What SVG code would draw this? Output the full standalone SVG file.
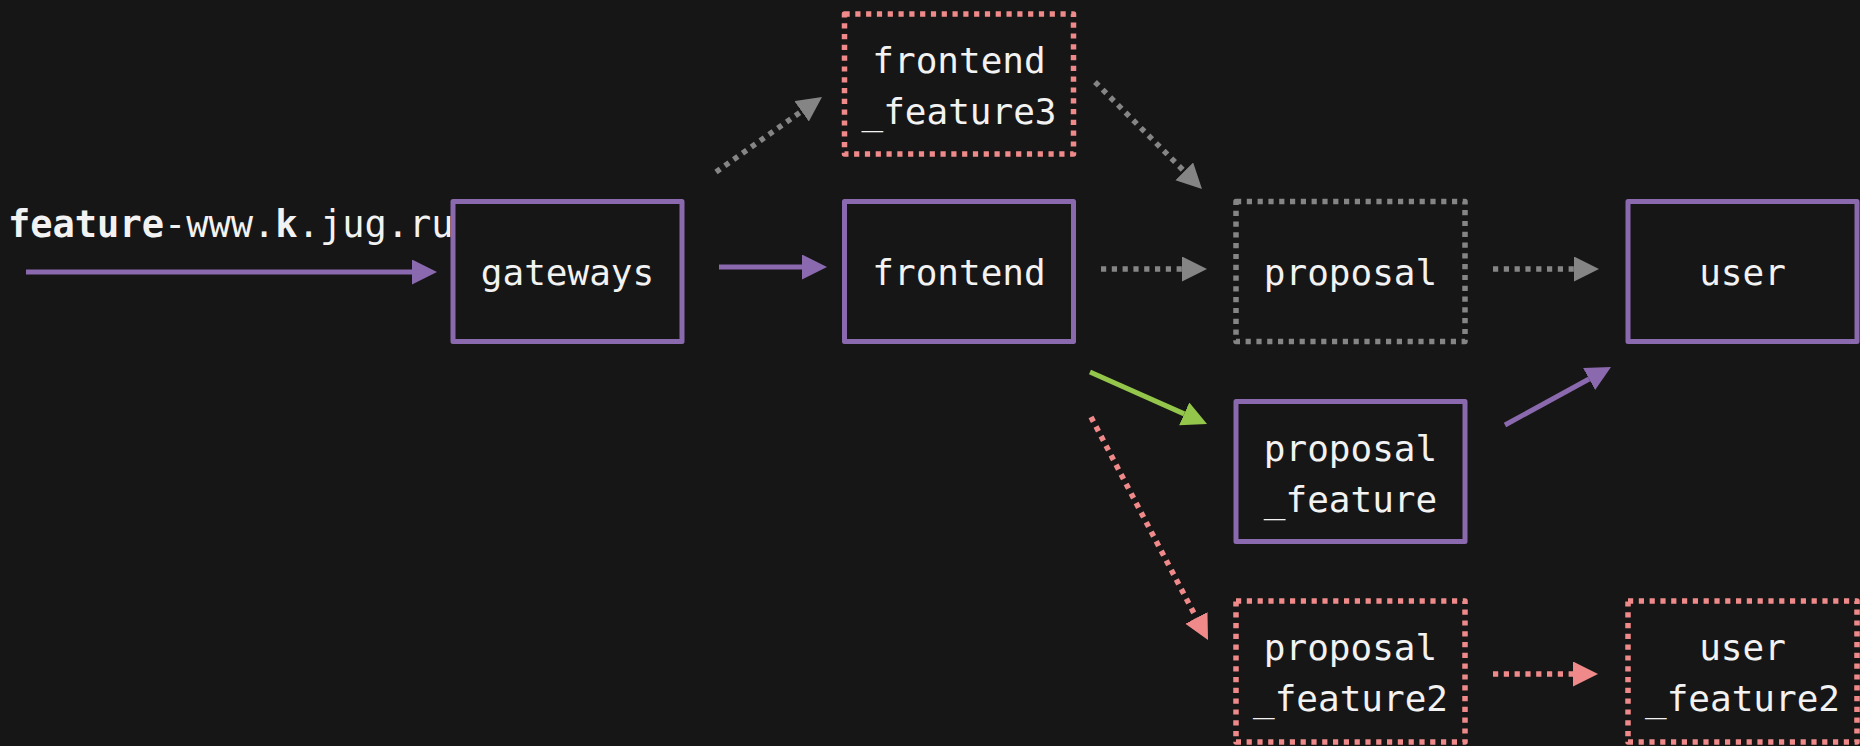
<svg xmlns="http://www.w3.org/2000/svg" width="1860" height="746" viewBox="0 0 1860 746">
<style>
.box{fill:#161616;stroke-width:5;stroke-linejoin:round}
.solid{stroke:#8a69ae}
.pink{stroke:#f08a8a;stroke-width:5.5;stroke-dasharray:5.2 5.6}
.grayb{stroke:#858585;stroke-width:5.5;stroke-dasharray:5.2 5.6}
.lbl{font-family:"DejaVu Sans Mono","Liberation Mono",monospace;font-size:36px;fill:#f2f2f2;text-anchor:middle}
.edge{fill:none;stroke-width:5}
.ep{stroke:#8a69ae}
.eg{stroke:#858585;stroke-width:5.5;stroke-dasharray:5.2 5.6}
.er{stroke:#f08a8a;stroke-width:5.5;stroke-dasharray:5.2 5.6}
.egr{stroke:#93c64a}
</style>
<defs>
<marker id="hp" markerUnits="userSpaceOnUse" markerWidth="26" markerHeight="26" refX="0" refY="12.5" orient="auto"><path d="M0,0 L25,12.5 L0,25 z" fill="#8a69ae"/></marker>
<marker id="hg" markerUnits="userSpaceOnUse" markerWidth="26" markerHeight="26" refX="0" refY="12.5" orient="auto"><path d="M0,0 L25,12.5 L0,25 z" fill="#858585"/></marker>
<marker id="hr" markerUnits="userSpaceOnUse" markerWidth="26" markerHeight="26" refX="0" refY="12.5" orient="auto"><path d="M0,0 L25,12.5 L0,25 z" fill="#f08a8a"/></marker>
<marker id="hgr" markerUnits="userSpaceOnUse" markerWidth="26" markerHeight="26" refX="0" refY="12.5" orient="auto"><path d="M0,0 L25,12.5 L0,25 z" fill="#93c64a"/></marker>
</defs>
<rect x="0" y="0" width="1860" height="746" fill="#161616"/>
<g id="connectors">
<line class="edge ep" x1="26" y1="272" x2="412" y2="272" marker-end="url(#hp)"/>
<line class="edge ep" x1="719" y1="267" x2="802" y2="267" marker-end="url(#hp)"/>
<line class="edge eg" x1="716" y1="172" x2="801.6" y2="111.4" marker-end="url(#hg)"/>
<line class="edge eg" x1="1095" y1="82" x2="1184.3" y2="171.3" marker-end="url(#hg)"/>
<line class="edge eg" x1="1101" y1="269" x2="1182" y2="269" marker-end="url(#hg)"/>
<line class="edge eg" x1="1493" y1="269" x2="1574" y2="269" marker-end="url(#hg)"/>
<line class="edge egr" x1="1090" y1="372" x2="1184.2" y2="413.9" marker-end="url(#hgr)"/>
<line class="edge ep" x1="1505" y1="425" x2="1589.1" y2="379" marker-end="url(#hp)"/>
<line class="edge er" x1="1091" y1="417" x2="1196.4" y2="617.9" marker-end="url(#hr)"/>
<line class="edge er" x1="1493" y1="674" x2="1573" y2="674" marker-end="url(#hr)"/>
</g>
<g id="entry">
<text x="8" y="237" font-family="DejaVu Sans Mono, Liberation Mono, monospace" font-size="37" fill="#f2f2f2"><tspan font-weight="bold">feature</tspan>-www.<tspan font-weight="bold">k</tspan>.jug.ru</text>
</g>
<g id="gateways">
<rect class="box solid" x="453" y="201.5" width="229" height="140"/>
<text class="lbl" x="567.5" y="285">gateways</text>
</g>
<g id="frontend_feature3">
<rect class="box pink" x="844.5" y="14" width="229" height="140"/>
<text class="lbl" x="959" y="73">frontend</text>
<text class="lbl" x="959" y="124">_feature3</text>
</g>
<g id="frontend">
<rect class="box solid" x="844.5" y="201.5" width="229" height="140"/>
<text class="lbl" x="959" y="285">frontend</text>
</g>
<g id="proposal">
<rect class="box grayb" x="1236" y="201.5" width="229" height="140"/>
<text class="lbl" x="1350.5" y="285">proposal</text>
</g>
<g id="user">
<rect class="box solid" x="1628" y="201.5" width="229" height="140"/>
<text class="lbl" x="1742.5" y="285">user</text>
</g>
<g id="proposal_feature">
<rect class="box solid" x="1236" y="401.5" width="229" height="140"/>
<text class="lbl" x="1350.5" y="460.5">proposal</text>
<text class="lbl" x="1350.5" y="511.5">_feature</text>
</g>
<g id="proposal_feature2">
<rect class="box pink" x="1236" y="601" width="229" height="141"/>
<text class="lbl" x="1350.5" y="660">proposal</text>
<text class="lbl" x="1350.5" y="711">_feature2</text>
</g>
<g id="user_feature2">
<rect class="box pink" x="1628" y="601" width="229" height="141"/>
<text class="lbl" x="1742.5" y="660">user</text>
<text class="lbl" x="1742.5" y="711">_feature2</text>
</g>
</svg>
